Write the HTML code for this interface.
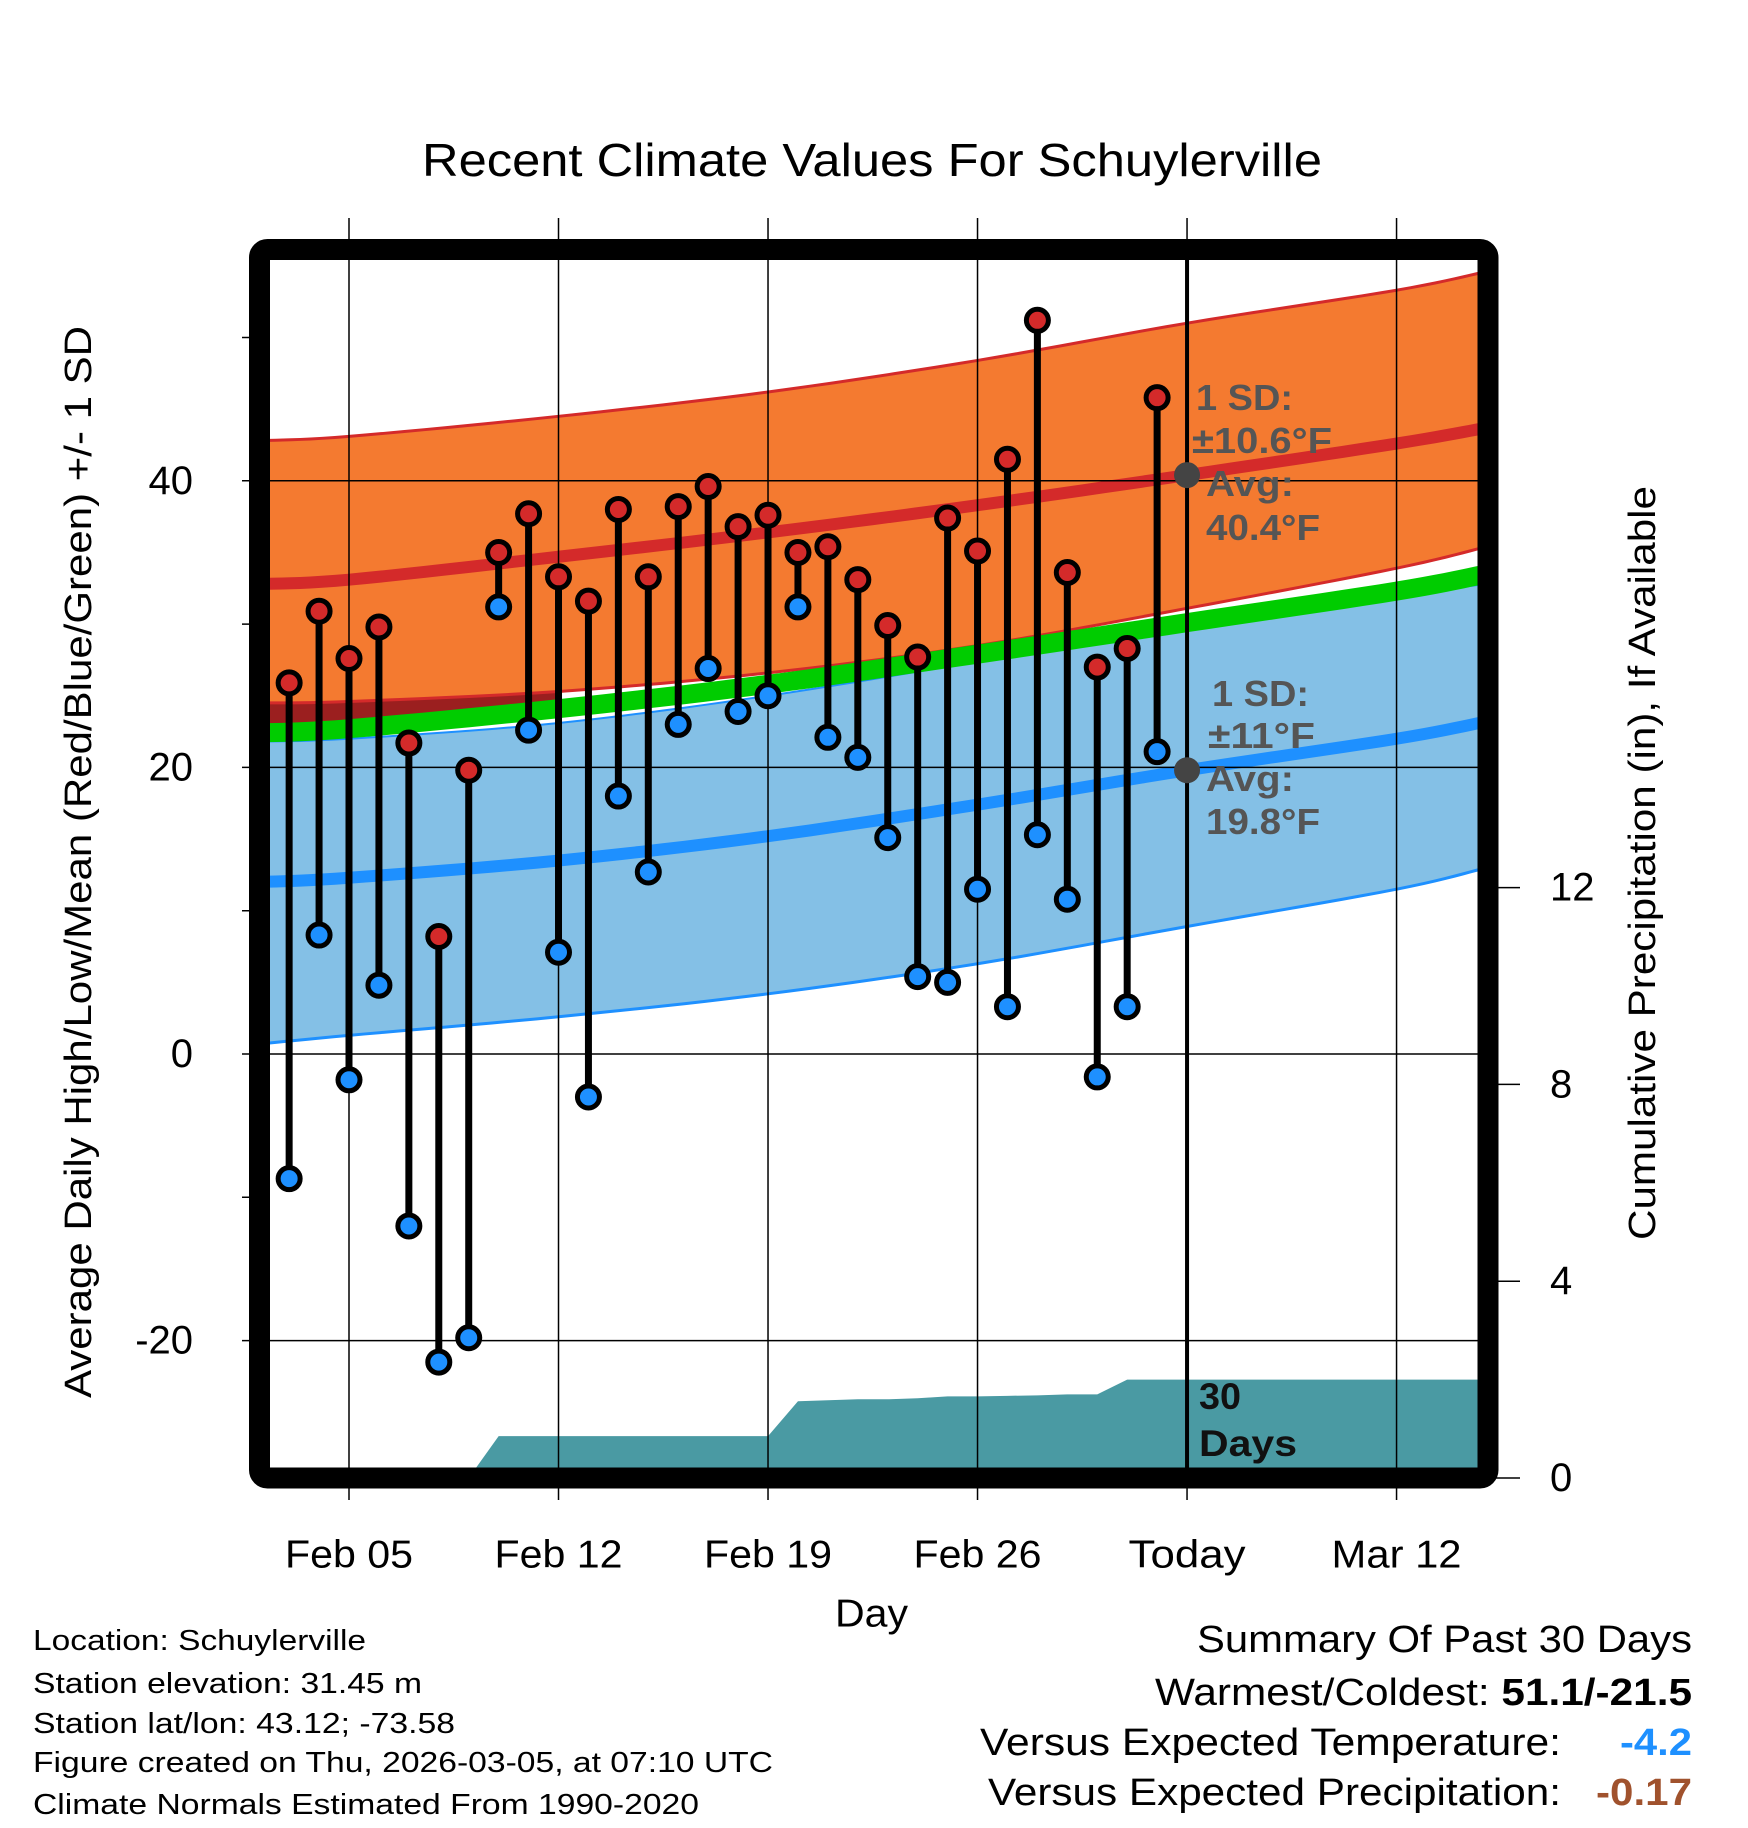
<!DOCTYPE html>
<html><head><meta charset="utf-8"><style>
html,body{margin:0;padding:0;background:#fff}
svg{display:block;font-family:"Liberation Sans",Arial,sans-serif}
</style></head><body>
<svg id="chart" width="1748" height="1828" viewBox="0 0 1748 1828" xmlns="http://www.w3.org/2000/svg">
<defs><clipPath id="plotclip"><rect x="260" y="250" width="1228" height="1228"/></clipPath>
<clipPath id="leftclip"><rect x="260" y="250" width="300" height="1228"/></clipPath></defs>
<text x="422" y="160" font-size="46" dominant-baseline="central" textLength="900" lengthAdjust="spacingAndGlyphs">Recent Climate Values For Schuylerville</text>
<g id="bands" clip-path="url(#plotclip)"></g>
<g id="grid"></g>
<g id="marks" clip-path="url(#plotclip)"></g>
<g id="axes"></g>
<rect x="259.5" y="249.5" width="1228.5" height="1228.5" rx="8" fill="none" stroke="#000" stroke-width="21"/>
<g font-size="36" font-weight="bold" fill="#555">
<text x="1196" y="410" textLength="97" lengthAdjust="spacingAndGlyphs">1 SD:</text><text x="1192" y="453" textLength="140" lengthAdjust="spacingAndGlyphs">±10.6°F</text><text x="1206" y="496" textLength="88" lengthAdjust="spacingAndGlyphs">Avg:</text><text x="1206" y="540" textLength="114" lengthAdjust="spacingAndGlyphs">40.4°F</text></g>
<g font-size="36" font-weight="bold" fill="#555">
<text x="1212" y="706" textLength="97" lengthAdjust="spacingAndGlyphs">1 SD:</text><text x="1208" y="748" textLength="107" lengthAdjust="spacingAndGlyphs">±11°F</text><text x="1206" y="791" textLength="88" lengthAdjust="spacingAndGlyphs">Avg:</text><text x="1206" y="834" textLength="114" lengthAdjust="spacingAndGlyphs">19.8°F</text></g>
<g font-size="37" font-weight="bold" fill="#111">
<text x="1199" y="1409" textLength="42" lengthAdjust="spacingAndGlyphs">30</text><text x="1199" y="1456" textLength="98" lengthAdjust="spacingAndGlyphs">Days</text></g>
<text x="835" y="1614" font-size="39" dominant-baseline="central" textLength="73" lengthAdjust="spacingAndGlyphs">Day</text>
<text transform="translate(79,862) rotate(-90)" font-size="38" text-anchor="middle" dominant-baseline="central" textLength="1072" lengthAdjust="spacingAndGlyphs">Average Daily High/Low/Mean (Red/Blue/Green) +/- 1 SD</text>
<text transform="translate(1643,863) rotate(-90)" font-size="38" text-anchor="middle" dominant-baseline="central" textLength="754" lengthAdjust="spacingAndGlyphs">Cumulative Precipitation (in), If Available</text>
<g font-size="29">
<text x="33" y="1650" textLength="333" lengthAdjust="spacingAndGlyphs">Location: Schuylerville</text>
<text x="33" y="1693" textLength="389" lengthAdjust="spacingAndGlyphs">Station elevation: 31.45 m</text>
<text x="33" y="1733" textLength="422" lengthAdjust="spacingAndGlyphs">Station lat/lon: 43.12; -73.58</text>
<text x="33" y="1772" textLength="740" lengthAdjust="spacingAndGlyphs">Figure created on Thu, 2026-03-05, at 07:10 UTC</text>
<text x="33" y="1814" textLength="666" lengthAdjust="spacingAndGlyphs">Climate Normals Estimated From 1990-2020</text></g>
<g font-size="38">
<text x="1197" y="1652" textLength="495" lengthAdjust="spacingAndGlyphs">Summary Of Past 30 Days</text>
<text x="1155" y="1705" textLength="537" lengthAdjust="spacingAndGlyphs">Warmest/Coldest: <tspan font-weight="bold">51.1/-21.5</tspan></text>
<text x="980" y="1755" textLength="581" lengthAdjust="spacingAndGlyphs">Versus Expected Temperature:</text>
<text x="1620" y="1755" fill="#1e90ff" font-weight="bold" textLength="72" lengthAdjust="spacingAndGlyphs">-4.2</text>
<text x="988" y="1805" textLength="573" lengthAdjust="spacingAndGlyphs">Versus Expected Precipitation:</text>
<text x="1596" y="1805" fill="#a0522d" font-weight="bold" textLength="96" lengthAdjust="spacingAndGlyphs">-0.17</text></g>
</svg>
<script>
// days relative to Feb 05 (0)
const obsDays = [-2,-1,0,1,2,3,4,5,6,7,8,9,10,11,12,13,14,15,16,17,18,19,20,21,22,23,24,25,26,27];
const highs = [25.9,30.9,27.6,29.8,21.7,8.2,19.8,35.0,37.7,33.3,31.6,38.0,33.3,38.2,39.6,36.8,37.6,35.0,35.4,33.1,29.9,27.7,37.4,35.1,41.5,51.2,33.6,27.0,28.3,45.8];
const lows = [-8.7,8.3,-1.8,4.8,-12.0,-21.5,-19.8,31.2,22.6,7.1,-3.0,18.0,12.7,23.0,26.9,23.9,25.0,31.2,22.1,20.7,15.1,5.4,5.0,11.5,3.3,15.3,10.8,-1.6,3.3,21.1];
const precip = [0,0,0,0,0,0,0,0.85,0.85,0.85,0.85,0.85,0.85,0.85,0.85,0.85,0.85,1.56,1.58,1.6,1.6,1.62,1.66,1.66,1.67,1.68,1.7,1.7,2.0,2.0];
const normDays = [-3,0,7,14,21,28,35,38];
const redMean = [32.8,33.1,34.7,36.4,38.3,40.4,42.6,43.7];
const redHigh = [42.8,43.1,44.5,46.2,48.4,51.0,53.3,54.6];
const redLow = [24.5,24.6,25.3,26.6,28.5,31.1,33.9,35.4];
const blueMean = [12.0,12.3,13.5,15.2,17.4,19.8,22.0,23.2];
const blueHigh = [21.8,22.0,23.1,25.0,27.4,30.0,32.0,32.8];
const blueLow = [0.7,1.3,2.6,4.2,6.3,8.9,11.5,13.0];
const greenMean = [22.4,22.7,24.1,25.8,27.9,30.1,32.3,33.5];
const tickDays = [0,7,14,21,28,35];
const tickLabels = ["Feb 05","Feb 12","Feb 19","Feb 26","Today","Mar 12"];
const tickWidths = [128,128,128,128,117,130];
const yTicks = [-20,0,20,40];
const yMinor = [-10,10,30,50];
const pTicks = [0,4,8,12];
const todayDay = 28;

const NS="http://www.w3.org/2000/svg";
const X=d=>349+29.93*d;
const Y=v=>1054-14.33*v;
const P=p=>1478-49.2*p;
function mk(tag,attrs,parent){const e=document.createElementNS(NS,tag);for(const k in attrs)e.setAttribute(k,attrs[k]);parent.appendChild(e);return e;}
const bands=document.getElementById('bands'),grid=document.getElementById('grid'),marks=document.getElementById('marks'),axes=document.getElementById('axes');
// smooth sampling (Catmull-Rom) of the normal curves
function smooth(arr){
  const out=[];const n=normDays.length;
  for(let i=0;i<n-1;i++){
    const x0=normDays[Math.max(i-1,0)],x1=normDays[i],x2=normDays[i+1],x3=normDays[Math.min(i+2,n-1)];
    const y0=arr[Math.max(i-1,0)],y1=arr[i],y2=arr[i+1],y3=arr[Math.min(i+2,n-1)];
    for(let s=0;s<10;s++){const t=s/10,t2=t*t,t3=t2*t;
      const f=(a,b,c,d)=>0.5*((2*b)+(-a+c)*t+(2*a-5*b+4*c-d)*t2+(-a+3*b-3*c+d)*t3);
      out.push([f(x0,x1,x2,x3),f(y0,y1,y2,y3)]);}
  }
  out.push([normDays[n-1],arr[n-1]]);return out;
}
function line(arr){return smooth(arr).map(p=>X(p[0])+','+Y(p[1])).join(' ');}
function area(a,b){const A=smooth(a),B=smooth(b).reverse();return A.concat(B).map(p=>X(p[0])+','+Y(p[1])).join(' ');}

let e;
e=mk('polygon',{points:area(redHigh,redLow),fill:'#f47a30'},bands);


e=mk('polyline',{points:line(redHigh),fill:'none',stroke:'#d42a2a','stroke-width':3},bands);


e=mk('polygon',{points:area(redLow,greenMean),fill:'#9b1f1f','clip-path':'url(#leftclip)'},bands);


e=mk('polyline',{points:line(redLow),fill:'none',stroke:'#d42a2a','stroke-width':3},bands);


e=mk('polygon',{points:area(blueHigh,blueLow),fill:'#84c0e6'},bands);


e=mk('polyline',{points:line(blueHigh),fill:'none',stroke:'#1e90ff','stroke-width':2},bands);


e=mk('polyline',{points:line(blueLow),fill:'none',stroke:'#1e90ff','stroke-width':3},bands);


e=mk('polyline',{points:line(greenMean),fill:'none',stroke:'#00cc00','stroke-width':19},bands);


e=mk('polyline',{points:line(redMean),fill:'none',stroke:'#d42a2a','stroke-width':12},bands);


e=mk('polyline',{points:line(blueMean),fill:'none',stroke:'#1e90ff','stroke-width':12},bands);



// precip area
let pts=[X(obsDays[0])+','+P(0)];
obsDays.forEach((d,i)=>pts.push(X(d)+','+P(precip[i])));
pts.push('1490,'+P(precip[precip.length-1]));pts.push('1490,'+P(0));
e=mk('polygon',{points:pts.join(' '),fill:'#4a9aa3'},bands);



// grid
tickDays.forEach((d,i)=>{
  e=mk('line',{x1:X(d),x2:X(d),y1:218,y2:1500,stroke:'#000','stroke-width':1.5},grid);
  
  
  e=mk('text',{x:X(d),y:1555,'font-size':39,'text-anchor':'middle','dominant-baseline':'central',textLength:tickWidths[i],lengthAdjust:'spacingAndGlyphs'},axes);
  e.textContent=tickLabels[i];
  
  
});
yTicks.forEach(v=>{
  e=mk('line',{x1:242,x2:1488,y1:Y(v),y2:Y(v),stroke:'#000','stroke-width':1.5},grid);
  
  
  e=mk('text',{x:193,y:Y(v),'font-size':40,'text-anchor':'end','dominant-baseline':'central'},axes);
  e.textContent=v;
  
  
});
yMinor.forEach(v=>{
  e=mk('line',{x1:242,x2:260,y1:Y(v),y2:Y(v),stroke:'#000','stroke-width':1.5},axes);
  
  
});
pTicks.forEach(p=>{
  e=mk('line',{x1:1488,x2:1520,y1:P(p),y2:P(p),stroke:'#000','stroke-width':1.5},axes);
  
  
  e=mk('text',{x:1550,y:P(p),'font-size':40,'dominant-baseline':'central'},axes);
  e.textContent=p;
  
  
});

// today line
e=mk('line',{x1:X(todayDay),x2:X(todayDay),y1:250,y2:1478,stroke:'#000','stroke-width':4},marks);


e=mk('circle',{cx:X(todayDay),cy:Y(redMean[5]),r:13,fill:'#444'},marks);


e=mk('circle',{cx:X(todayDay),cy:Y(blueMean[5]),r:13,fill:'#444'},marks);



// observations
obsDays.forEach((d,i)=>{
  e=mk('line',{x1:X(d),x2:X(d),y1:Y(highs[i]),y2:Y(lows[i]),stroke:'#000','stroke-width':7},marks);
  
  
  e=mk('circle',{cx:X(d),cy:Y(highs[i]),r:11,fill:'#d42a2a',stroke:'#000','stroke-width':5},marks);
  
  
  e=mk('circle',{cx:X(d),cy:Y(lows[i]),r:11,fill:'#1e90ff',stroke:'#000','stroke-width':5},marks);
  
  
});
</script>
</body></html>
